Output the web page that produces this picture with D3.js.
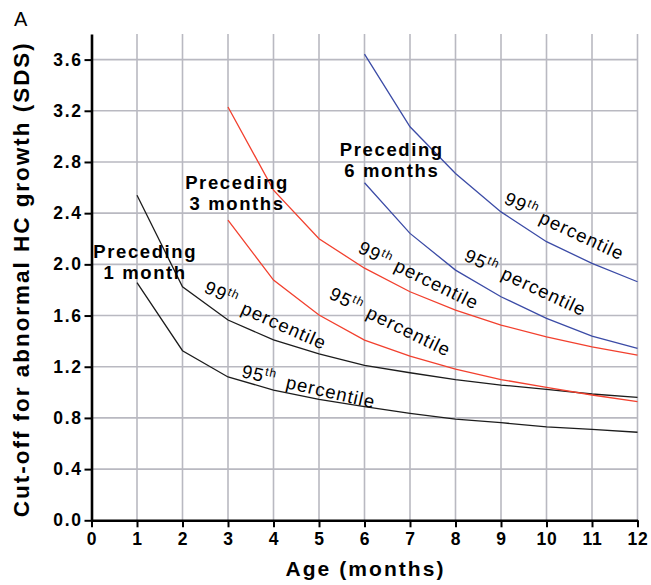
<!DOCTYPE html>
<html lang="en">
<head>
    <meta charset="UTF-8">
    <title>HC growth cut-off</title>
    <script src="https://d3js.org/d3.v7.min.js"></script>
    <style>
        body { margin: 0; background: #fff; }
        svg text { font-family: "Liberation Sans", Arial, sans-serif; }
        .grid line { stroke: #b9b9c1; stroke-width: 1.6; }
        .axis path, .axis line { stroke: #000; }
        .axis path { stroke-width: 2.6; }
        .axis line { stroke-width: 2; }
        .axis text { font-size: 17.5px; font-weight: bold; fill: #000; }
        .title { font-size: 21px; font-weight: bold; }
        .ytitle { font-size: 22.5px; font-weight: bold; }
        .preceding { font-size: 18.5px; font-weight: bold; letter-spacing: 1.6px; }
        .pct { font-size: 18.5px; letter-spacing: 1.1px; }
        .curve { fill: none; stroke-width: 1.3; }
    </style>
</head>
<body>
<div id="fig"></div>
<script>
    // months on the x axis
    let xTicks = d3.range(0, 13)
    let yTicks = [0, 0.4, 0.8, 1.2, 1.6, 2.0, 2.4, 2.8, 3.2, 3.6]

    // cut-off values (SDS)
    let oneMonth99 = [2.54, 1.825, 1.565, 1.41, 1.30, 1.21, 1.153, 1.10, 1.057, 1.023, 0.987, 0.96]
    let oneMonth95 = [1.857, 1.325, 1.12, 1.018, 0.945, 0.888, 0.836, 0.79, 0.763, 0.73, 0.71, 0.688]
    let threeMonth99 = [3.23, 2.58, 2.20, 1.97, 1.786, 1.643, 1.526, 1.434, 1.356, 1.29]
    let threeMonth95 = [2.346, 1.877, 1.604, 1.408, 1.283, 1.182, 1.10, 1.039, 0.979, 0.927]
    let sixMonth99 = [3.643, 3.075, 2.71, 2.41, 2.177, 2.008, 1.864]
    let sixMonth95 = [2.638, 2.242, 1.955, 1.747, 1.578, 1.44, 1.344]

    let series = [
        {start: 1, values: oneMonth99, color: "#1c1c1c"},
        {start: 1, values: oneMonth95, color: "#1c1c1c"},
        {start: 3, values: threeMonth99, color: "#f2402e"},
        {start: 3, values: threeMonth95, color: "#f2402e"},
        {start: 6, values: sixMonth99, color: "#3b4ba6"},
        {start: 6, values: sixMonth95, color: "#3b4ba6"}
    ]

    // group labels (x, y in data units)
    let groups = [
        {lines: ["Preceding", "1 month"], x: 1.18, y: 2.05},
        {lines: ["Preceding", "3 months"], x: 3.2, y: 2.59},
        {lines: ["Preceding", "6 months"], x: 6.6, y: 2.85}
    ]

    // percentile labels: number part and "percentile" word, each with its own anchor
    let pctLabels = [
        {num: "99", x: 2.45, y: 1.784, px: 3.26, py: 1.62, angle: 24},
        {num: "95", x: 3.28, y: 1.12, px: 4.25, py: 1.034, angle: 13},
        {num: "99", x: 5.835, y: 2.096, px: 6.626, py: 1.955, angle: 26},
        {num: "95", x: 5.198, y: 1.737, px: 6.011, py: 1.588, angle: 26},
        {num: "99", x: 9.044, y: 2.479, px: 9.813, py: 2.33, angle: 25},
        {num: "95", x: 8.165, y: 2.034, px: 8.978, py: 1.893, angle: 25}
    ]

    let W = 651, H = 585
    let margin = {left: 91.5, right: 13.5, top: 34, bottom: 64.7}

    let svg = d3.select("#fig").append("svg")
        .attr("width", W).attr("height", H)

    let x = d3.scaleLinear().domain([0, 12]).range([margin.left, W - margin.right])
    let y = d3.scaleLinear().domain([0, 3.8]).range([H - margin.bottom, margin.top])

    // grid
    let grid = svg.append("g").attr("class", "grid")
    grid.selectAll(".vg").data(xTicks.slice(1)).enter().append("line")
        .attr("x1", d => x(d)).attr("x2", d => x(d))
        .attr("y1", y(0)).attr("y2", y(3.8))
    grid.selectAll(".hg").data(yTicks.slice(1)).enter().append("line")
        .attr("x1", x(0)).attr("x2", x(12))
        .attr("y1", d => y(d)).attr("y2", d => y(d))

    // curves
    let line = d3.line().x(d => x(d[0])).y(d => y(d[1]))
    svg.selectAll(".curve").data(series).enter().append("path")
        .attr("class", "curve")
        .attr("stroke", d => d.color)
        .attr("d", d => line(d.values.map((v, i) => [d.start + i, v])))

    // axes
    let xAxis = svg.append("g").attr("class", "axis")
        .attr("transform", `translate(0,${y(0)})`)
        .call(d3.axisBottom(x).tickValues(xTicks).tickSize(7).tickSizeOuter(0).tickPadding(5))
    xAxis.selectAll("text").style("letter-spacing", "0.8px")
    let yAxis = svg.append("g").attr("class", "axis")
        .attr("transform", `translate(${x(0)},0)`)
        .call(d3.axisLeft(y).tickValues(yTicks).tickFormat(d3.format(".1f")).tickSize(7).tickSizeOuter(0).tickPadding(2))
    yAxis.selectAll("text").style("letter-spacing", "1.6px")

    // axis titles
    svg.append("text").attr("class", "ytitle")
        .attr("transform", `translate(29,${(y(0) + y(3.8)) / 2 + 3}) rotate(-90)`)
        .attr("text-anchor", "middle")
        .attr("textLength", 474).attr("lengthAdjust", "spacing")
        .text("Cut-off for abnormal HC growth (SDS)")
    svg.append("text").attr("class", "title")
        .attr("x", x(6)).attr("y", 576)
        .attr("text-anchor", "middle")
        .attr("textLength", 158).attr("lengthAdjust", "spacing")
        .text("Age (months)")

    svg.append("text").attr("x", 14).attr("y", 26)
        .style("font-size", "20px").text("A")

    // group labels
    groups.forEach(function (g) {
        let t = svg.append("text").attr("class", "preceding").attr("text-anchor", "middle")
        g.lines.forEach(function (s, i) {
            t.append("tspan").attr("x", x(g.x)).attr("y", y(g.y)).attr("dy", i * 21).text(s)
        })
    })

    // percentile labels
    pctLabels.forEach(function (p) {
        let t = svg.append("text").attr("class", "pct")
            .attr("transform", `translate(${x(p.x)},${y(p.y)}) rotate(${p.angle})`)
        t.append("tspan").text(p.num)
        t.append("tspan").attr("dy", -7).style("font-size", "12px").text("th")
        svg.append("text").attr("class", "pct")
            .attr("transform", `translate(${x(p.px)},${y(p.py)}) rotate(${p.angle})`)
            .text("percentile")
    })
</script>
</body>
</html>
